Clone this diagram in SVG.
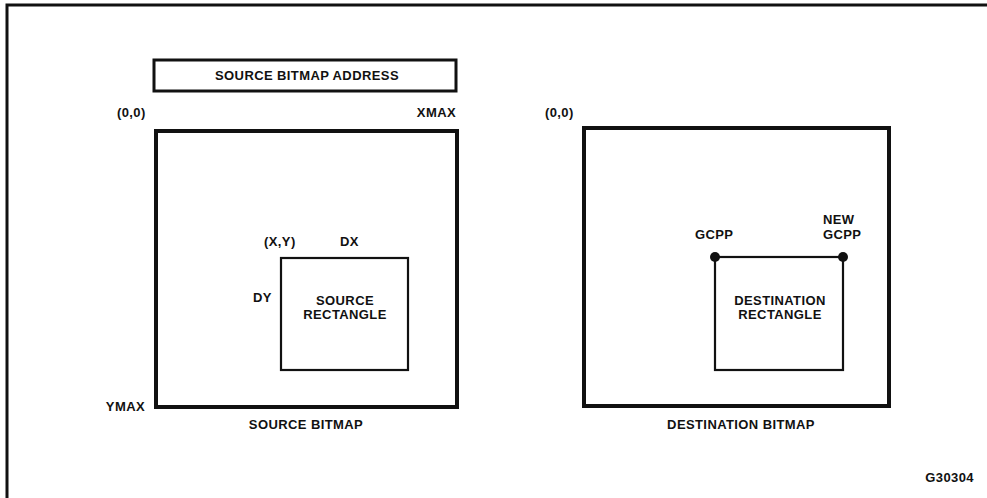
<svg xmlns="http://www.w3.org/2000/svg" width="987" height="498" viewBox="0 0 987 498">
<style>
text{font-family:"Liberation Sans",Arial,sans-serif;font-weight:bold;font-size:13px;fill:#111;letter-spacing:0.4px}
.big{fill:none;stroke:#111;stroke-width:4}
.box{fill:none;stroke:#111;stroke-width:3}
.rect{fill:none;stroke:#111;stroke-width:2.2}
.m{text-anchor:middle}
.e{text-anchor:end}
</style>
<rect width="987" height="498" fill="#fff"/>
<g id="frame"><path d="M7 498 V5 H987" fill="none" stroke="#111" stroke-width="3"/></g>
<g id="address"><rect class="box" x="154" y="60" width="302" height="31"/><text class="m" x="307" y="80">SOURCE BITMAP ADDRESS</text></g>
<g id="source-bitmap">
<rect class="big" x="156" y="131" width="301" height="276"/>
<text x="117" y="117">(0,0)</text>
<text class="e" x="456" y="117">XMAX</text>
<text class="e" x="145" y="411">YMAX</text>
<text class="m" x="306" y="429">SOURCE BITMAP</text>
</g>
<g id="source-rect">
<rect class="rect" x="281" y="258" width="127" height="112"/>
<text x="264" y="246">(X,Y)</text>
<text x="340" y="246">DX</text>
<text x="253" y="302">DY</text>
<text class="m" x="345" y="305">SOURCE</text>
<text class="m" x="345" y="319">RECTANGLE</text>
</g>
<g id="dest-bitmap">
<rect class="big" x="584" y="128" width="305" height="278"/>
<text x="545" y="117">(0,0)</text>
<text class="m" x="741" y="429">DESTINATION BITMAP</text>
</g>
<g id="dest-rect">
<rect class="rect" x="715" y="257" width="128" height="113"/>
<text x="695" y="239">GCPP</text>
<text x="823" y="224">NEW</text>
<text x="823" y="239">GCPP</text>
<text class="m" x="780" y="305">DESTINATION</text>
<text class="m" x="780" y="319">RECTANGLE</text>
</g>
<g id="connectors">
<circle cx="715" cy="257" r="5" fill="#111"/>
<circle cx="843" cy="257" r="5" fill="#111"/>
</g>
<text class="e" x="974" y="482">G30304</text>
</svg>
